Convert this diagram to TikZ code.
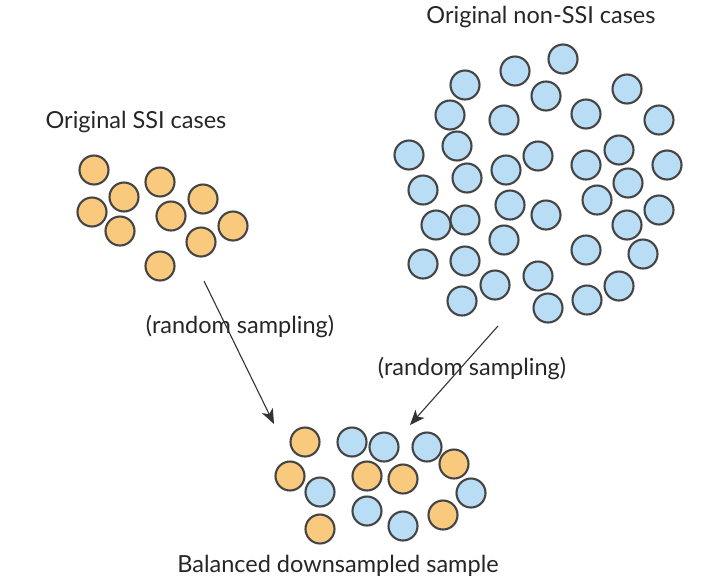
\documentclass[tikz,border=0pt]{standalone}
\usepackage{fontspec}
\setmainfont{Lato}
\usetikzlibrary{arrows.meta}
\definecolor{ssi}{HTML}{F9CA7E}
\definecolor{non}{HTML}{B9DDF5}
\definecolor{edge}{HTML}{444444}
\tikzset{
  ball/.style={circle,draw=edge,line width=2.1pt,minimum size=29pt,inner sep=0pt},
  oball/.style={ball,fill=ssi},
  bball/.style={ball,fill=non},
  lbl/.style={font=\fontsize{23.5}{26}\selectfont,text=black!85,inner sep=0pt},
  conn/.style={draw=black!80,line width=1.1pt,-{Stealth[length=15pt,width=12pt,inset=4pt]}}
}
\begin{document}
\begin{tikzpicture}[x=1pt,y=-1pt]
\useasboundingbox (0,0) rectangle (704,582);
% labels
\node[lbl] (tssi) at (136,122) {Original SSI cases};
\node[lbl] (tnon) at (541,17) {Original non-SSI cases};
\node[lbl] (tr1) at (240,327) {(random sampling)};
\node[lbl] (tr2) at (472,369) {(random sampling)};
\node[lbl] (tbal) at (338,566) {Balanced downsampled sample};
% SSI
\foreach \x/\y [count=\i] in {94/170,124/197,92/212,120/231,160/182,171/216,203/199,233/226,201/242,160/266}
  \node[oball] (o\i) at (\x,\y) {};
% non-SSI
\foreach \x/\y [count=\i] in {563/59,515/71,465/85,546/96,627/89,450/115,504/120,586/114,659/120,457/146,409/155,538/156,619/150,586/165,667/165,506/170,467/178,423/190,628/183,597/200,510/205,659/210,546/215,465/220,436/225,627/225,504/240,586/250,643/254,423/264,465/261,538/276,495/285,619/286,462/301,587/300,548/308}
  \node[bball] (b\i) at (\x,\y) {};
% balanced sample
\foreach \x/\y [count=\i] in {305/442,454/464,290/476,367/476,403/479,443/515,320/529}
  \node[oball] (so\i) at (\x,\y) {};
\foreach \x/\y [count=\i] in {352/442,384/447,427/447,320/492,471/493,367/511,403/526}
  \node[bball] (sb\i) at (\x,\y) {};
% connectors
\coordinate (a1s) at (204,281);
\coordinate (a1e) at (274,424);
\coordinate (a2s) at (498,326);
\coordinate (a2e) at (410,425);
\draw[conn] (a1s) -- (a1e);
\draw[conn] (a2s) -- (a2e);
\end{tikzpicture}
\end{document}
